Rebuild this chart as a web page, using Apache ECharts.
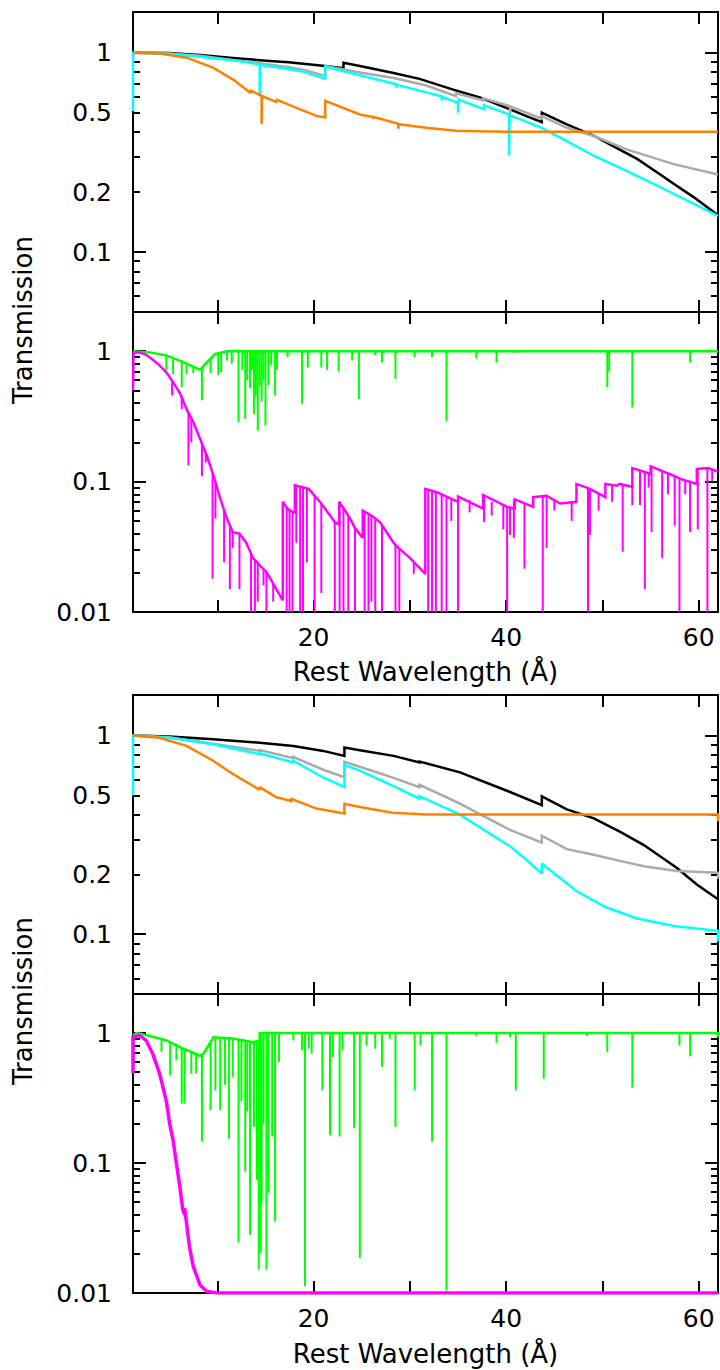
<!DOCTYPE html>
<html>
<head>
<meta charset="utf-8">
<title>Transmission vs rest wavelength</title>
<script src="https://cdn.jsdelivr.net/npm/echarts@6/dist/echarts.min.js"></script>
<style>
  html, body { margin: 0; padding: 0; background: #ffffff; }
  #chart { width: 720px; height: 1370px; }
</style>
</head>
<body>
<div id="chart"></div>
<script>
// ---------- axes ----------
const X_MIN = 1.24, X_MAX = 62;
const xTickValues = [10, 20, 30, 40, 50, 60];
const xLabelValues = [20, 40, 60];

const edgeRange = [0.05, 1.6];
const edgeMajor = [0.1, 1];
const edgeMinor = [0.06, 0.07, 0.08, 0.09, 0.2, 0.3, 0.4, 0.5, 0.6, 0.7, 0.8, 0.9];
const edgeLabels = [0.1, 0.2, 0.5, 1];

const lineRange = [0.01, 2];
const lineMajor = [0.01, 0.1, 1];
const lineMinor = [0.02, 0.03, 0.04, 0.05, 0.06, 0.07, 0.08, 0.09,
                   0.2, 0.3, 0.4, 0.5, 0.6, 0.7, 0.8, 0.9];
const lineLabels = [0.01, 0.1, 1];

// ---------- upper group : continuum transmission ----------
const upperBlack = [[1.24,1.0],[5,0.996],[8.2,0.975],[11.6,0.941],[15.1,0.912],[17.4,0.895],[17.4,0.9],
  [21.2,0.858],[23.1,0.835],[23.1,0.891],[24.8,0.857],[28.3,0.791],[31,0.739],[34.5,0.653],[37.6,0.589],
  [40.4,0.519],[42.1,0.48],[43.7,0.448],[43.7,0.5],[46.3,0.437],[49.1,0.383],[51.1,0.34],[53.6,0.293],
  [56,0.245],[57.7,0.215],[59.5,0.188],[62,0.153]];
const upperGray = [[1.24,1.0],[5,0.99],[8.2,0.965],[11.6,0.92],[14.4,0.885],[17.4,0.845],[17.4,0.85],
  [19,0.82],[21.2,0.765],[21.2,0.858],[24.8,0.795],[28.3,0.747],[31.7,0.684],[34.8,0.605],[34.8,0.625],
  [37.6,0.577],[37.6,0.59],[40.4,0.539],[40.4,0.49],[40.45,0.537],[43.7,0.466],[43.7,0.48],[46.3,0.42],
  [49.1,0.382],[52.5,0.327],[57.4,0.276],[62,0.245]];
const upperCyan = [[1.24,0.51],[1.24,1.0],[5,0.985],[8.2,0.955],[11.6,0.915],[14.4,0.874],[14.4,0.618],
  [14.45,0.87],[16.5,0.84],[18.6,0.81],[21.2,0.741],[21.2,0.851],[24.8,0.77],[28.6,0.694],[28.6,0.666],
  [28.65,0.69],[31,0.645],[33.3,0.605],[33.3,0.575],[33.35,0.6],[35.0,0.56],[35.0,0.5],[35.05,0.582],
  [37.7,0.52],[37.7,0.545],[40.3,0.49],[40.3,0.306],[40.35,0.487],[43.7,0.42],[46.3,0.36],[49.1,0.304],
  [53.6,0.241],[57.4,0.196],[62,0.152]];
const upperOrange = [[1.24,1.0],[4,0.99],[6.8,0.944],[9.56,0.841],[11.6,0.735],[13.4,0.631],[13.5,0.645],
  [14.6,0.607],[14.6,0.438],[14.65,0.605],[16.1,0.566],[16.2,0.58],[18.6,0.52],[20.3,0.482],[21.2,0.473],
  [21.2,0.573],[24.8,0.49],[26.2,0.476],[26.2,0.465],[26.25,0.475],[28.8,0.44],[28.8,0.415],[28.85,0.438],
  [31.7,0.42],[34.8,0.406],[37,0.403],[40,0.401],[62,0.401]];

// ---------- upper group : line absorption ----------
const upperGreen = [[1.24,1.0],[3,0.98],[4.7,0.93],[6.4,0.83],[7.6,0.754],[8.2,0.72],[8.9,0.82],
  [9.8,0.954],[11,1.0],[62,1.0]];
// [wavelength, continuum, line bottom]
const upperGreenLines = [[4.7,0.93,0.71],[5.4,0.9,0.67],[6.3,0.85,0.53],[6.8,0.82,0.67],[7.5,0.76,0.68],
  [8.4,0.74,0.42],[9.3,0.88,0.68],[10.1,0.97,0.66],[10.4,0.98,0.69],[11.0,1,0.85],[11.5,1,0.8],
  [12.2,1,0.285],[12.6,1,0.72],[12.9,1,0.303],[13.1,1,0.6],[13.4,1,0.52],[13.6,1,0.72],[13.8,1,0.33],
  [14.0,1,0.45],[14.2,1,0.246],[14.4,1,0.55],[14.6,1,0.41],[14.8,1,0.6],[15.0,1,0.27],[15.3,1,0.55],
  [15.6,1,0.78],[16.0,1,0.457],[16.2,1,0.72],[17.3,1,0.9],[18.8,1,0.395],[19.4,1,0.75],[20.8,1,0.75],
  [21.4,1,0.72],[22.6,1,0.7],[24.0,1,0.85],[24.7,1,0.43],[26.4,1,0.93],[27.1,1,0.82],[28.5,1,0.61],
  [30.5,1,0.9],[32.3,1,0.9],[33.8,1,0.29],[36.9,1,0.88],[39.0,1,0.82],[40.9,1,0.97],[50.5,1,0.53],
  [50.7,1,0.7],[53.1,1,0.37],[59.1,1,0.82]];
const upperMagenta = [[1.24,0.5],[1.3,0.98],[1.9,0.98],[2.6,0.94],[3.3,0.86],[4.0,0.78],[4.7,0.69],
  [5.4,0.58],[6.1,0.48],[6.8,0.36],[7.5,0.286],[8.2,0.213],[8.9,0.159],[9.6,0.111],[10.3,0.074],
  [11.0,0.052],[11.6,0.041],[12.3,0.040],[13.0,0.034],[13.7,0.026],[14.4,0.0228],[15.1,0.0203],
  [15.8,0.0165],[16.5,0.0134],[16.8,0.0123],[16.8,0.07],[17.3,0.062],[17.9,0.058],[18.05,0.058],
  [18.05,0.094],[19.0,0.09],[19.5,0.088],[20.8,0.068],[22.2,0.049],[22.65,0.047],[22.65,0.07],
  [23.6,0.055],[24.3,0.044],[25.1,0.037],[25.1,0.06],[26,0.055],[26.9,0.049],[28.3,0.034],[28.8,0.031],
  [30,0.026],[31.6,0.0196],[31.6,0.088],[32.8,0.083],[35.0,0.07],[35.0,0.077],[37.6,0.062],[37.6,0.079],
  [40.1,0.064],[40.9,0.062],[40.9,0.073],[42.8,0.064],[42.8,0.076],[44.2,0.078],[45.6,0.068],[47.3,0.07],
  [47.3,0.096],[48.7,0.088],[50.3,0.076],[50.3,0.096],[51.5,0.093],[51.8,0.096],[53.1,0.091],[53.1,0.127],
  [55.0,0.115],[55.0,0.131],[57.4,0.111],[58.1,0.105],[59.8,0.096],[59.8,0.125],[61,0.127],[62,0.119]];
const upperMagentaLines = [[5.3,0.6,0.46],[6.3,0.45,0.36],[7.0,0.34,0.133],[7.3,0.3,0.2],[8.4,0.2,0.11],
  [8.8,0.165,0.14],[9.5,0.115,0.018],[9.8,0.1,0.052],[10.7,0.06,0.024],[11.3,0.046,0.015],
  [11.6,0.041,0.031],[12.3,0.04,0.015],[13.5,0.028,0.01],[13.9,0.025,0.01],[14.2,0.024,0.012],
  [14.8,0.021,0.016],[15.1,0.0203,0.01],[15.8,0.0165,0.012],[17.2,0.063,0.01],[17.5,0.06,0.01],
  [17.8,0.058,0.01],[18.2,0.093,0.034],[18.6,0.092,0.01],[18.9,0.091,0.01],[19.3,0.089,0.024],
  [20.1,0.078,0.01],[20.8,0.068,0.014],[22.2,0.049,0.01],[22.7,0.07,0.01],[23.1,0.062,0.01],
  [23.6,0.055,0.01],[24.3,0.044,0.01],[25.3,0.059,0.01],[25.7,0.057,0.01],[26.0,0.055,0.012],
  [26.4,0.052,0.01],[27.1,0.046,0.01],[28.5,0.033,0.01],[28.9,0.031,0.01],[30.4,0.024,0.0196],
  [31.9,0.087,0.01],[32.3,0.085,0.01],[32.7,0.084,0.01],[33.3,0.08,0.01],[33.8,0.077,0.01],
  [34.3,0.074,0.05],[35.0,0.077,0.01],[36.2,0.072,0.058],[37.7,0.079,0.049],[38.5,0.07,0.055],
  [39.7,0.065,0.043],[40.1,0.064,0.01],[40.4,0.063,0.039],[40.8,0.073,0.037],[41.9,0.068,0.0215],
  [43.8,0.077,0.01],[44.2,0.078,0.031],[45.0,0.072,0.06],[46.8,0.069,0.05],[48.5,0.089,0.01],
  [48.7,0.088,0.039],[49.6,0.08,0.06],[51.0,0.094,0.07],[52.1,0.094,0.029],[53.1,0.091,0.066],
  [53.9,0.122,0.066],[54.4,0.118,0.015],[54.8,0.116,0.09],[55.1,0.13,0.041],[56.2,0.12,0.026],
  [56.8,0.115,0.08],[57.5,0.111,0.046],[58.0,0.106,0.01],[58.6,0.103,0.08],[59.1,0.1,0.041],
  [59.9,0.124,0.043],[60.9,0.127,0.01],[61.4,0.125,0.1]];

// ---------- lower group : continuum transmission ----------
const lowerBlack = [[1.24,1.0],[5,0.99],[9.56,0.957],[14.4,0.921],[14.4,0.927],[17.9,0.887],[17.9,0.893],
  [21,0.837],[23.2,0.79],[23.2,0.87],[24.8,0.844],[28.3,0.79],[31,0.732],[31,0.74],[35.2,0.653],
  [40.4,0.52],[43.7,0.446],[43.7,0.494],[46.3,0.425],[49.1,0.383],[51.8,0.328],[54.3,0.281],
  [57.7,0.216],[59.8,0.178],[62,0.15]];
const lowerGray = [[1.24,1.0],[5,0.98],[9.56,0.91],[14.4,0.837],[14.4,0.845],[17.9,0.77],[17.9,0.78],
  [21,0.673],[23.2,0.617],[23.2,0.738],[24.8,0.697],[28.3,0.612],[31,0.55],[31,0.565],[35.2,0.454],
  [38,0.385],[40.4,0.335],[43.7,0.289],[43.7,0.313],[46.3,0.268],[49.1,0.251],[51.8,0.234],[54.3,0.22],
  [57.7,0.208],[62,0.204],[62,0.19]];
const lowerCyan = [[1.24,0.5],[1.24,1.0],[5,0.975],[9.56,0.904],[14.4,0.806],[14.4,0.815],[17.9,0.732],
  [17.9,0.745],[21,0.615],[23.2,0.55],[23.2,0.713],[24.8,0.666],[28.3,0.556],[31,0.481],[31,0.495],
  [35.2,0.40],[38,0.328],[40.4,0.277],[42.1,0.237],[43.7,0.202],[43.7,0.227],[47.3,0.165],[50.3,0.137],
  [53.6,0.12],[57.4,0.11],[62,0.104],[62,0.092]];
const lowerOrange = [[1.24,1.0],[4,0.975],[6.8,0.887],[9.56,0.747],[11.6,0.641],[14.4,0.533],[14.4,0.55],
  [16.1,0.49],[17.7,0.468],[17.7,0.48],[20.3,0.429],[23.2,0.405],[23.2,0.454],[24.8,0.437],[28.2,0.409],
  [31.7,0.40],[62,0.40],[62,0.37]];

// ---------- lower group : line absorption ----------
const lowerGreen = [[1.24,0.96],[1.6,1.0],[2.2,0.98],[3,0.95],[4.7,0.88],[6.3,0.77],[8.2,0.67],[8.6,0.7],
  [9.6,0.93],[11.6,0.91],[13.7,0.85],[14.4,0.88],[14.4,1.0],[62,1.0],[62,0.93]];
const lowerGreenLines = [[4.2,0.9,0.715],[5.1,0.86,0.473],[5.75,0.83,0.617],[6.3,0.77,0.287],
  [6.6,0.76,0.287],[7.3,0.72,0.488],[7.8,0.7,0.488],[8.4,0.68,0.146],[9.3,0.85,0.255],[9.8,0.93,0.363],
  [10.3,0.93,0.255],[10.8,0.92,0.4],[11.2,0.92,0.154],[11.6,0.91,0.46],[12.2,0.9,0.0245],[12.5,0.9,0.3],
  [12.9,0.89,0.086],[13.1,0.88,0.25],[13.4,0.87,0.028],[13.8,0.85,0.19],[14.1,0.86,0.074],
  [14.3,0.87,0.0151],[14.5,1,0.0204],[14.6,1,0.049],[14.8,1,0.2],[15.1,1,0.0151],[15.3,1,0.059],
  [15.7,1,0.16],[16.0,1,0.0356],[16.4,1,0.6],[17.9,1,0.878],[18.8,1,0.736],[19.1,1,0.0113],[19.5,1,0.758],
  [19.8,1,0.694],[20.9,1,0.363],[21.7,1,0.164],[22.0,1,0.655],[22.7,1,0.16],[23.0,1,0.736],[24.2,1,0.185],
  [24.8,1,0.0186],[25.5,1,0.8],[26.4,1,0.758],[27.1,1,0.549],[27.9,1,0.9],[28.5,1,0.19],[30.5,1,0.363],
  [31.1,1,0.804],[32.3,1,0.146],[33.8,1,0.0104],[36.9,1,0.943],[39.0,1,0.843],[40.4,1,0.93],[41.0,1,0.363],
  [43.9,1,0.446],[48.4,1,0.95],[50.5,1,0.715],[53.1,1,0.381],[58.0,1,0.8],[59.1,1,0.662]];
const lowerMagenta = [[1.24,0.49],[1.24,0.93],[1.9,0.96],[2.6,0.88],[3.3,0.69],[4.0,0.49],[4.7,0.30],
  [5.05,0.2],[5.4,0.15],[5.75,0.099],[6.1,0.066],[6.4,0.044],[6.6,0.04],[6.6,0.045],[6.8,0.0345],
  [7.1,0.0228],[7.5,0.016],[8.2,0.0115],[8.9,0.0103],[9.9,0.01],[62,0.01]];

// ---------- styling ----------
const FONT = 'DejaVu Sans';
const TICK_FONT = 25;
const TITLE_FONT = 26;
const C = { black: '#000000', gray: '#aaaaaa', cyan: '#00ffff', orange: '#ff8000',
            green: '#00ff00', magenta: '#ff00ff' };

const grids = [
  { top: 12,  height: 300, range: edgeRange, major: edgeMajor, minor: edgeMinor, labels: edgeLabels, xLabels: false },
  { top: 312, height: 300, range: lineRange, major: lineMajor, minor: lineMinor, labels: lineLabels, xLabels: true },
  { top: 695, height: 299, range: edgeRange, major: edgeMajor, minor: edgeMinor, labels: edgeLabels, xLabels: false },
  { top: 994, height: 299, range: lineRange, major: lineMajor, minor: lineMinor, labels: lineLabels, xLabels: true }
];

const axisLineStyle = { color: '#000', width: 2 };

function xAxisFor(g, position, withLabels) {
  return {
    type: 'value', gridIndex: g, position: position, min: X_MIN, max: X_MAX,
    axisLine: { show: true, onZero: false, lineStyle: axisLineStyle },
    axisTick: { show: true, inside: true, length: 12, customValues: xTickValues, lineStyle: axisLineStyle },
    axisLabel: withLabels
      ? { show: true, customValues: xLabelValues, margin: 13, color: '#000', fontFamily: FONT, fontSize: TICK_FONT }
      : { show: false },
    splitLine: { show: false }, minorTick: { show: false }, minorSplitLine: { show: false }
  };
}

function yAxisFor(g, cfg, position, ticks, len, withLine, withLabels) {
  return {
    type: 'log', logBase: 10, gridIndex: g, position: position,
    min: cfg.range[0], max: cfg.range[1],
    axisLine: { show: withLine, lineStyle: axisLineStyle },
    axisTick: { show: true, inside: true, length: len, customValues: ticks, lineStyle: axisLineStyle },
    axisLabel: withLabels
      ? { show: true, customValues: cfg.labels, margin: 21, color: '#000', fontFamily: FONT, fontSize: TICK_FONT,
          formatter: v => String(+v.toPrecision(3)) }
      : { show: false },
    splitLine: { show: false }, minorTick: { show: false }, minorSplitLine: { show: false }
  };
}

const gridOpts = [], xAxes = [], yAxes = [];
grids.forEach((cfg, g) => {
  gridOpts.push({ left: 133, width: 585, top: cfg.top, height: cfg.height, outerBoundsMode: 'none', containLabel: false });
  xAxes.push(xAxisFor(g, 'bottom', cfg.xLabels));
  xAxes.push(xAxisFor(g, 'top', false));
  yAxes.push(yAxisFor(g, cfg, 'left', cfg.major, 13, true, true));
  yAxes.push(yAxisFor(g, cfg, 'left', cfg.minor, 7, false, false));
  yAxes.push(yAxisFor(g, cfg, 'right', cfg.major, 13, true, false));
  yAxes.push(yAxisFor(g, cfg, 'right', cfg.minor, 7, false, false));
});

function curve(name, g, data, color, width) {
  return {
    type: 'line', name: name, xAxisIndex: 2 * g, yAxisIndex: 4 * g, data: data,
    symbol: 'none', showSymbol: false, clip: true, animation: false,
    lineStyle: { color: color, width: width, join: 'miter', miterLimit: 2 }, itemStyle: { color: color }
  };
}

// absorption lines: vertical strokes from the continuum down to the line bottom
function absorption(name, g, data, color, width) {
  return {
    type: 'custom', name: name, xAxisIndex: 2 * g, yAxisIndex: 4 * g, data: data,
    encode: { x: 0, y: [1, 2] }, clip: true, animation: false,
    renderItem: function (params, api) {
      const top = api.coord([api.value(0), api.value(1)]);
      const bot = api.coord([api.value(0), api.value(2)]);
      return { type: 'line', shape: { x1: top[0], y1: top[1], x2: bot[0], y2: bot[1] },
               style: { stroke: color, lineWidth: width } };
    }
  };
}

const series = [
  curve('upper black', 0, upperBlack, C.black, 2.5),
  curve('upper gray', 0, upperGray, C.gray, 2.5),
  curve('upper cyan', 0, upperCyan, C.cyan, 2.5),
  curve('upper orange', 0, upperOrange, C.orange, 2.5),

  curve('upper green', 1, upperGreen, C.green, 2.5),
  absorption('upper green lines', 1, upperGreenLines, C.green, 2),
  curve('upper magenta', 1, upperMagenta, C.magenta, 2.5),
  absorption('upper magenta lines', 1, upperMagentaLines, C.magenta, 2),

  curve('lower black', 2, lowerBlack, C.black, 2.5),
  curve('lower gray', 2, lowerGray, C.gray, 2.5),
  curve('lower cyan', 2, lowerCyan, C.cyan, 2.5),
  curve('lower orange', 2, lowerOrange, C.orange, 2.5),

  curve('lower green', 3, lowerGreen, C.green, 2.5),
  absorption('lower green lines', 3, lowerGreenLines, C.green, 2),
  curve('lower magenta', 3, lowerMagenta, C.magenta, 3.5)
];

function title(text, x, y, rotate) {
  return {
    type: 'text', x: x, y: y, rotation: rotate ? Math.PI / 2 : 0, z: 10,
    style: { text: text, fill: '#000', fontFamily: FONT, fontSize: TITLE_FONT, align: 'center', verticalAlign: 'middle' }
  };
}

const chart = echarts.init(document.getElementById('chart'), null, { renderer: 'svg', width: 720, height: 1370 });
chart.setOption({
  backgroundColor: '#ffffff',
  animation: false,
  grid: gridOpts,
  xAxis: xAxes,
  yAxis: yAxes,
  series: series,
  graphic: [
    title('Transmission', 23, 320, true),
    title('Rest Wavelength (\u00c5)', 425.5, 672, false),
    title('Transmission', 23, 1001, true),
    title('Rest Wavelength (\u00c5)', 425.5, 1354, false)
  ]
});
</script>
</body>
</html>
